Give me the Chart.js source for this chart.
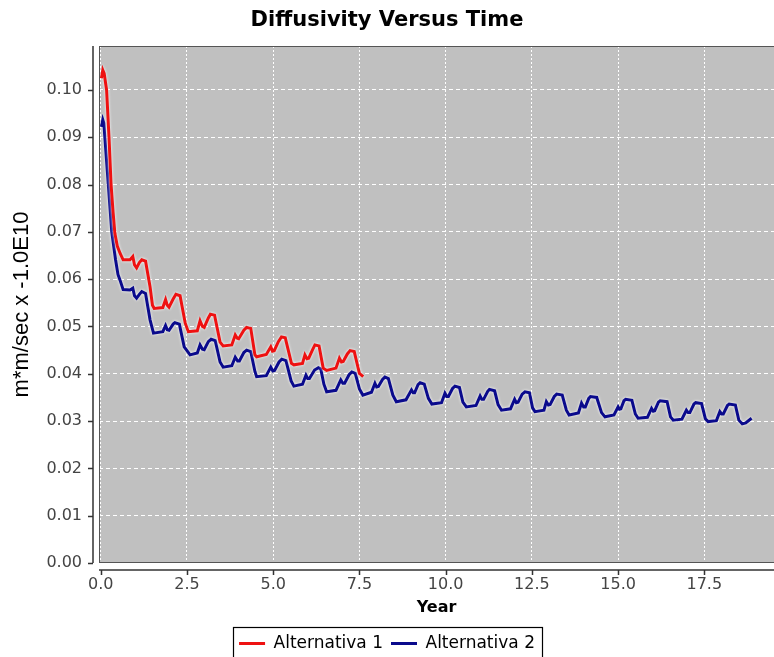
<!DOCTYPE html>
<html>
<head>
<meta charset="utf-8">
<script src="https://cdn.jsdelivr.net/npm/chart.js@4"></script>
<style>
  html, body { margin: 0; padding: 0; background: #ffffff; }
  #wrap { width: 774px; height: 657px; position: relative; }
</style>
</head>
<body>
<div id="wrap"><canvas id="c" width="774" height="657"></canvas></div>
<script>
const chartTitle = 'Diffusivity Versus Time';
const xAxisTitle = 'Year';
const yAxisTitle = 'm*m/sec x -1.0E10';
const seriesNames = ['Alternativa 1', 'Alternativa 2'];

const alt1Years = [0.02,0.06,0.1,0.17,0.24,0.3,0.36,0.41,0.48,0.56,0.65,0.85,0.93,0.98,1.04,1.12,1.19,1.3,1.43,1.5,1.55,1.8,1.88,1.93,1.98,2.1,2.18,2.3,2.45,2.54,2.8,2.88,2.95,3.0,3.12,3.18,3.3,3.46,3.55,3.8,3.9,3.96,4.0,4.15,4.23,4.35,4.47,4.52,4.8,4.93,4.98,5.03,5.15,5.24,5.35,5.53,5.6,5.85,5.92,5.98,6.03,6.15,6.21,6.33,6.45,6.55,6.82,6.92,6.98,7.03,7.15,7.23,7.35,7.5,7.61];
const alt1Values = [0.1025,0.1042,0.1035,0.1,0.09,0.08,0.074,0.0697,0.067,0.0655,0.0641,0.0641,0.0648,0.063,0.0624,0.0635,0.0641,0.0638,0.0584,0.0545,0.0538,0.054,0.0557,0.0545,0.0541,0.0558,0.0568,0.0565,0.0507,0.0489,0.0491,0.0512,0.05,0.0498,0.0518,0.0526,0.0524,0.0467,0.0459,0.0461,0.0482,0.0475,0.0474,0.0492,0.0498,0.0496,0.044,0.0436,0.0441,0.0457,0.0448,0.0449,0.0468,0.0478,0.0476,0.0422,0.0419,0.0422,0.044,0.0432,0.0433,0.0452,0.0461,0.0459,0.0412,0.0407,0.0412,0.0433,0.0425,0.0426,0.0442,0.0449,0.0447,0.0401,0.0394];

const alt2Years = [0.02,0.06,0.09,0.12,0.22,0.32,0.43,0.5,0.56,0.65,0.85,0.93,0.98,1.04,1.12,1.19,1.3,1.43,1.53,1.8,1.88,1.93,1.98,2.1,2.15,2.28,2.42,2.59,2.8,2.88,2.95,3.0,3.12,3.2,3.32,3.46,3.55,3.8,3.9,3.97,4.02,4.15,4.23,4.35,4.47,4.52,4.8,4.93,4.99,5.04,5.17,5.25,5.37,5.52,5.6,5.85,5.95,6.0,6.05,6.2,6.31,6.38,6.47,6.55,6.82,6.96,7.02,7.07,7.2,7.28,7.38,7.5,7.6,7.85,7.95,8.0,8.05,8.17,8.24,8.34,8.47,8.57,8.85,9.01,9.06,9.1,9.2,9.26,9.38,9.5,9.6,9.88,9.98,10.03,10.08,10.2,10.27,10.4,10.5,10.6,10.88,11.0,11.05,11.1,11.22,11.27,11.42,11.52,11.62,11.88,12.0,12.05,12.1,12.22,12.3,12.43,12.52,12.59,12.85,12.92,12.98,13.03,13.15,13.22,13.38,13.5,13.58,13.85,13.94,14.0,14.05,14.15,14.2,14.38,14.52,14.62,14.88,15.0,15.04,15.08,15.17,15.22,15.4,15.5,15.58,15.85,15.97,16.02,16.06,16.17,16.22,16.42,16.52,16.6,16.85,16.98,17.03,17.08,17.2,17.25,17.42,17.53,17.61,17.85,17.95,18.0,18.05,18.17,18.22,18.4,18.5,18.6,18.7,18.87];
const alt2Values = [0.0922,0.0937,0.093,0.09,0.08,0.07,0.0641,0.061,0.0598,0.0578,0.0577,0.0581,0.0565,0.056,0.0568,0.0574,0.057,0.0514,0.0486,0.0489,0.0502,0.0493,0.0492,0.0505,0.0508,0.0505,0.0457,0.044,0.0444,0.0461,0.0452,0.0451,0.0468,0.0473,0.047,0.0425,0.0414,0.0417,0.0435,0.0427,0.0427,0.0445,0.045,0.0447,0.0405,0.0394,0.0396,0.0414,0.0406,0.0407,0.0425,0.0431,0.0428,0.0385,0.0374,0.0378,0.0397,0.039,0.039,0.0408,0.0413,0.041,0.0378,0.0362,0.0365,0.0387,0.038,0.038,0.0398,0.0404,0.0401,0.0368,0.0355,0.0361,0.038,0.0372,0.0373,0.0388,0.0393,0.039,0.0355,0.0341,0.0345,0.0366,0.036,0.036,0.0377,0.0381,0.0378,0.0348,0.0336,0.0339,0.0359,0.0352,0.0352,0.0369,0.0374,0.0371,0.034,0.033,0.0333,0.0353,0.0346,0.0346,0.0363,0.0367,0.0364,0.0335,0.0323,0.0326,0.0346,0.0339,0.034,0.0357,0.0362,0.036,0.0328,0.032,0.0323,0.0341,0.0334,0.0335,0.0352,0.0357,0.0355,0.0323,0.0313,0.0317,0.0338,0.033,0.033,0.0348,0.0352,0.035,0.0318,0.0309,0.0313,0.033,0.0325,0.0326,0.0343,0.0346,0.0344,0.0315,0.0306,0.0308,0.0327,0.0321,0.0322,0.034,0.0343,0.0341,0.0309,0.0302,0.0304,0.0323,0.0318,0.0318,0.0336,0.0339,0.0337,0.0305,0.0299,0.0301,0.032,0.0315,0.0315,0.0333,0.0336,0.0334,0.0302,0.0294,0.0296,0.0306];

const seriesColors = ['#ee1111', '#0a0a8c'];

function toPoints(xs, ys) { return xs.map((x, i) => ({ x: x, y: ys[i] })); }

const plotDecor = {
  id: 'plotDecor',
  beforeDraw(chart) {
    const { ctx, chartArea: a } = chart;
    ctx.save();
    ctx.fillStyle = '#c0c0c0';
    ctx.fillRect(a.left, a.top, a.right - a.left, a.bottom - a.top);
    ctx.restore();
  },
  beforeDatasetsDraw(chart) {
    const ctx = chart.ctx;
    ctx.save();
    ctx.shadowColor = 'rgba(255,255,255,1)';
    ctx.shadowBlur = 3;
  },
  afterDatasetsDraw(chart) {
    chart.ctx.restore();
  },
  afterDraw(chart) {
    const { ctx, chartArea: a, scales } = chart;
    ctx.save();
    ctx.strokeStyle = '#555555';
    ctx.lineWidth = 1;
    ctx.strokeRect(a.left + 0.5, a.top + 0.5, a.right - a.left, a.bottom - a.top - 1);
    ctx.strokeStyle = '#333333';
    ctx.lineWidth = 1.5;
    const ax = a.left - 6;
    ctx.beginPath();
    ctx.moveTo(ax, a.top);
    ctx.lineTo(ax, a.bottom);
    scales.y.ticks.forEach(t => {
      const py = Math.round(scales.y.getPixelForValue(t.value)) + 0.5;
      ctx.moveTo(ax - 5, py);
      ctx.lineTo(ax, py);
    });
    ctx.stroke();
    const ay = a.bottom + 7;
    ctx.beginPath();
    ctx.moveTo(a.left, ay);
    ctx.lineTo(a.right, ay);
    scales.x.ticks.forEach(t => {
      const px = Math.round(scales.x.getPixelForValue(t.value)) + 0.5;
      ctx.moveTo(px, ay);
      ctx.lineTo(px, ay + 5);
    });
    ctx.stroke();
    const lg = chart.legend;
    if (lg && lg.legendHitBoxes && lg.legendHitBoxes.length) {
      let l = Infinity, r = -Infinity;
      lg.legendHitBoxes.forEach(h => { l = Math.min(l, h.left); r = Math.max(r, h.left + h.width); });
      ctx.strokeStyle = '#000000';
      ctx.lineWidth = 1.2;
      ctx.strokeRect(Math.round(l - 6) + 0.5, 627.5, Math.round(r - l + 13), 40);
    }
    ctx.restore();
  }
};

new Chart(document.getElementById('c'), {
  type: 'line',
  data: {
    datasets: [
      { label: seriesNames[0], data: toPoints(alt1Years, alt1Values), borderColor: seriesColors[0], backgroundColor: seriesColors[0], borderWidth: 3, pointRadius: 0, tension: 0, fill: false },
      { label: seriesNames[1], data: toPoints(alt2Years, alt2Values), borderColor: seriesColors[1], backgroundColor: seriesColors[1], borderWidth: 3, pointRadius: 0, tension: 0, fill: false }
    ]
  },
  options: {
    responsive: false,
    animation: false,
    events: [],
    layout: { padding: { left: 0, right: 0, top: 0, bottom: -5 } },
    plugins: {
      title: {
        display: true,
        text: chartTitle,
        color: '#000000',
        font: { family: 'DejaVu Sans', size: 21, weight: 'bold' },
        padding: { top: 8.4, bottom: 12.4 }
      },
      legend: {
        position: 'bottom',
        labels: {
          usePointStyle: true,
          pointStyle: 'line',
          pointStyleWidth: 26,
          padding: 8,
          color: '#000000',
          font: { family: 'DejaVu Sans', size: 17 }
        }
      },
      tooltip: { enabled: false }
    },
    scales: {
      x: {
        type: 'linear',
        min: -0.05,
        max: 19.52,
        afterFit: s => { s.height = 64; },
        border: { display: false, dash: [2, 2] },
        grid: { color: '#ffffff', lineWidth: 1, drawTicks: false },
        ticks: {
          stepSize: 2.5,
          includeBounds: false,
          padding: 12,
          color: '#444444',
          maxRotation: 0,
          font: { family: 'DejaVu Sans', size: 16 },
          callback: v => Number(v).toFixed(1)
        },
        title: {
          display: true,
          text: xAxisTitle,
          color: '#000000',
          font: { family: 'DejaVu Sans', size: 16, weight: 'bold' },
          padding: { top: 0, bottom: 9.4 }
        }
      },
      y: {
        type: 'linear',
        min: 0,
        max: 0.1093,
        afterFit: s => { s.width = 99; },
        border: { display: false, dash: [4, 3] },
        grid: { color: '#ffffff', lineWidth: 1, drawTicks: false },
        ticks: {
          stepSize: 0.01,
          includeBounds: false,
          padding: 17,
          color: '#444444',
          font: { family: 'DejaVu Sans', size: 16 },
          callback: v => Number(v).toFixed(2)
        },
        title: {
          display: true,
          text: yAxisTitle,
          color: '#000000',
          font: { family: 'Liberation Sans', size: 22 },
          padding: { top: 8.3, bottom: 0 }
        }
      }
    }
  },
  plugins: [plotDecor]
});
</script>
</body>
</html>
